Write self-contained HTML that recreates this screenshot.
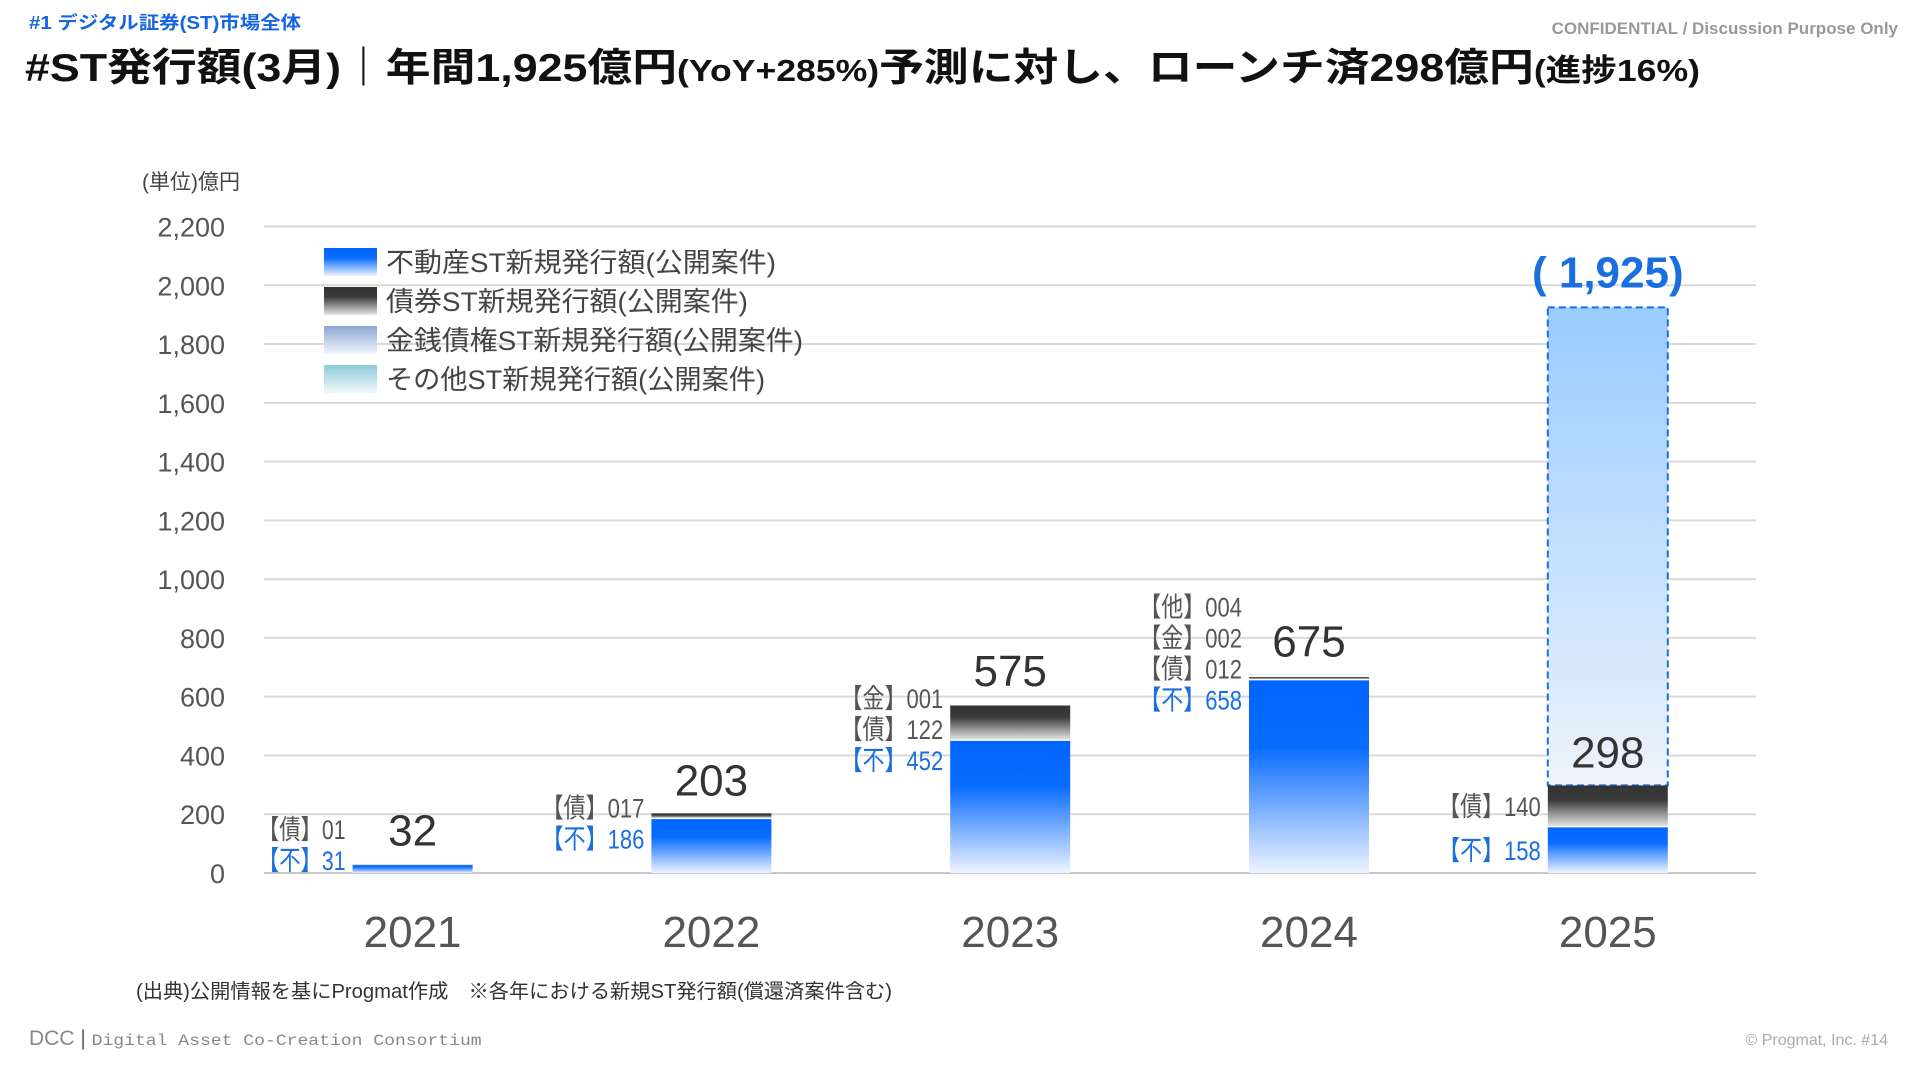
<!DOCTYPE html>
<html><head><meta charset="utf-8">
<style>
html,body{margin:0;padding:0;background:#fff;}
body{width:1920px;height:1080px;overflow:hidden;font-family:"Liberation Sans","Noto Sans CJK JP",sans-serif;}
svg text{font-family:"Liberation Sans","Noto Sans CJK JP",sans-serif;}
</style></head>
<body>
<svg id="chart" width="1920" height="1080" viewBox="0 0 1920 1080">
<defs>
<linearGradient id="gBlue" x1="0" y1="0" x2="0" y2="1"><stop offset="0" stop-color="#0064ff"/><stop offset="0.35" stop-color="#0a6cff"/><stop offset="1" stop-color="#eef4ff"/></linearGradient>
<linearGradient id="gDark" x1="0" y1="0" x2="0" y2="1"><stop offset="0" stop-color="#333"/><stop offset="0.35" stop-color="#3a3a3a"/><stop offset="1" stop-color="#e6e6e6"/></linearGradient>
<linearGradient id="gKin" x1="0" y1="0" x2="0" y2="1"><stop offset="0" stop-color="#8aa8d4"/><stop offset="1" stop-color="#f2f5fb"/></linearGradient>
<linearGradient id="gOther" x1="0" y1="0" x2="0" y2="1"><stop offset="0" stop-color="#8ccbd9"/><stop offset="1" stop-color="#f0f8fa"/></linearGradient>
<linearGradient id="gFore" x1="0" y1="0" x2="0" y2="1"><stop offset="0" stop-color="#99ccff"/><stop offset="1" stop-color="#eef3fa"/></linearGradient>
</defs>
<text x="29" y="29" font-size="18" font-weight="bold" fill="#1565e0" textLength="272" lengthAdjust="spacingAndGlyphs">#1  デジタル証券(ST)市場全体</text>
<text x="1898" y="34" font-size="17" font-weight="bold" fill="#999" text-anchor="end">CONFIDENTIAL / Discussion Purpose Only</text>
<text x="25" y="81" font-size="39" font-weight="bold" fill="#111" textLength="1675" lengthAdjust="spacingAndGlyphs">#ST発行額(3月)｜年間1,925億円<tspan font-size="31">(YoY+285%)</tspan>予測に対し、ローンチ済298億円<tspan font-size="31">(進捗16%)</tspan></text>
<text x="142" y="189" font-size="21" fill="#444">(単位)億円</text>
<g id="grid"></g><g id="bars"></g><g id="labels"></g>
<g id="legend"></g>
<text x="136" y="998" font-size="20" fill="#333" textLength="756" lengthAdjust="spacingAndGlyphs">(出典)公開情報を基にProgmat作成　※各年における新規ST発行額(償還済案件含む)</text>
<text x="29" y="1045" font-size="21" fill="#888">DCC<tspan fill="#666"> | </tspan><tspan font-family="Liberation Mono, monospace" font-size="16" textLength="390" lengthAdjust="spacingAndGlyphs">Digital Asset Co-Creation Consortium</tspan></text>
<text x="1888" y="1045" font-size="16" fill="#aaa" text-anchor="end">© Progmat, Inc.    #14</text>
</svg>
<script>
const years = ["2021","2022","2023","2024","2025"];
const fudosan = [31,186,452,658,158];
const saiken = [1,17,122,12,140];
const kinsen = [0,0,1,2,0];
const sonota = [0,0,0,4,0];
const totals = ["32","203","575","675","298"];
const saikenLbl = ["01","017","122","012","140"];
const kinsenLbl = ["","","001","002",""];
const sonotaLbl = ["","","","004",""];
const forecast = [null,null,null,null,1925];
const forecastLbl = "( 1,925)";
const yTicks = [0,200,400,600,800,1000,1200,1400,1600,1800,2000,2200];
const legendNames = ["不動産ST新規発行額(公開案件)","債券ST新規発行額(公開案件)","金銭債権ST新規発行額(公開案件)","その他ST新規発行額(公開案件)"];

const NS="http://www.w3.org/2000/svg";
const X0=264, X1=1756, Y0=873, YTOP=226.5, YMAX=2200;
const y=v=>Y0-(v/YMAX)*(Y0-YTOP);
const xc=i=>412.6+i*298.8;
const BW=120;
function mk(tag,attrs,parent,txt){const e=document.createElementNS(NS,tag);for(const k in attrs)e.setAttribute(k,attrs[k]);if(txt!==undefined)e.textContent=txt;parent.appendChild(e);return e;}
const grid=document.getElementById('grid'),bars=document.getElementById('bars'),labels=document.getElementById('labels'),legend=document.getElementById('legend');
yTicks.forEach(t=>{
  const l=mk('line',{x1:X0,x2:X1,y1:y(t),y2:y(t),stroke:t===0?'#c8c8c8':'#d9d9d9','stroke-width':2},grid);
  
  
  const tx=mk('text',{x:225,y:y(t)+10,'font-size':27,fill:'#555','text-anchor':'end'},grid,t.toLocaleString('en-US'));
  
  
});
const series=[[fudosan,'url(#gBlue)','fudosan'],[saiken,'url(#gDark)','saiken'],[kinsen,'url(#gKin)','kinsen'],[sonota,'url(#gOther)','sonota']];
function sideLabel(x,yy,txt,fill,name){
  const d=txt.length-3;
  const w=(47+12.3*d)*1.2245;
  const t=mk('text',{x:x-w,y:yy,'font-size':27,fill:fill,textLength:w,lengthAdjust:'spacingAndGlyphs'},labels,txt);
  
  
  return t;
}
years.forEach((yr,i)=>{
  const cx=xc(i);
  const total=fudosan[i]+saiken[i]+kinsen[i]+sonota[i];
  if(forecast[i]!==null){
    const f=mk('rect',{x:cx-BW/2,y:y(forecast[i]),width:BW,height:y(total)-y(forecast[i]),fill:'url(#gFore)',stroke:'#1a6fe0','stroke-width':2,'stroke-dasharray':'7,4'},bars);
    
    
    const fl=mk('text',{x:cx,y:y(forecast[i])-20,'font-size':44,'font-weight':'bold',fill:'#1a6fe0','text-anchor':'middle'},labels,forecastLbl);
    
    
  }
  let cum=0;
  series.forEach(([arr,fill,nm])=>{
    const v=arr[i]; if(!v) return;
    const top=y(cum+v), bot=y(cum);
    const r=mk('rect',{x:cx-BW/2,y:top,width:BW,height:Math.max(bot-top,1.5),fill:fill},bars);
    
    
    cum+=v;
  });
  cum=0;
  series.forEach(([arr])=>{const v=arr[i]; if(!v) return; cum+=v; if(cum<total) mk('line',{x1:cx-BW/2,x2:cx+BW/2,y1:y(cum),y2:y(cum),stroke:'#fff','stroke-width':1.5},bars);});
  const tl=mk('text',{x:cx,y:y(total)-18,'font-size':44,fill:'#333','text-anchor':'middle'},labels,totals[i]);
  
  
  const lx=cx-BW/2-7;
  let fy, sy;
  if(forecast[i]!==null){ fy=y(fudosan[i]/2)+10; sy=y(fudosan[i]+saiken[i]/2)+10; }
  else { fy=Math.min(y(fudosan[i])+30,870); sy=fy-31; }
  sideLabel(lx,fy,'【不】'+fudosan[i],'#1a6fe0','fudosan-label-'+yr);
  sideLabel(lx,sy,'【債】'+saikenLbl[i],'#555','saiken-label-'+yr);
  let ny=sy;
  if(kinsenLbl[i]){ny-=31;sideLabel(lx,ny,'【金】'+kinsenLbl[i],'#555','kinsen-label-'+yr);}
  if(sonotaLbl[i]){ny-=31;sideLabel(lx,ny,'【他】'+sonotaLbl[i],'#555','sonota-label-'+yr);}
  const xl=mk('text',{x:cx,y:947,'font-size':44,fill:'#555','text-anchor':'middle'},labels,yr);
  
  
});
const lf=['url(#gBlue)','url(#gDark)','url(#gKin)','url(#gOther)'];
const lw=[390,362,417,379];
legendNames.forEach((n,k)=>{
  const yy=248+k*39;
  const s=mk('rect',{x:324,y:yy,width:53,height:28,fill:lf[k]},legend);
  
  
  const t=mk('text',{x:386,y:yy+24,'font-size':27,fill:'#444',textLength:lw[k],lengthAdjust:'spacingAndGlyphs'},legend,n);
  
  
});
</script>
</body></html>
